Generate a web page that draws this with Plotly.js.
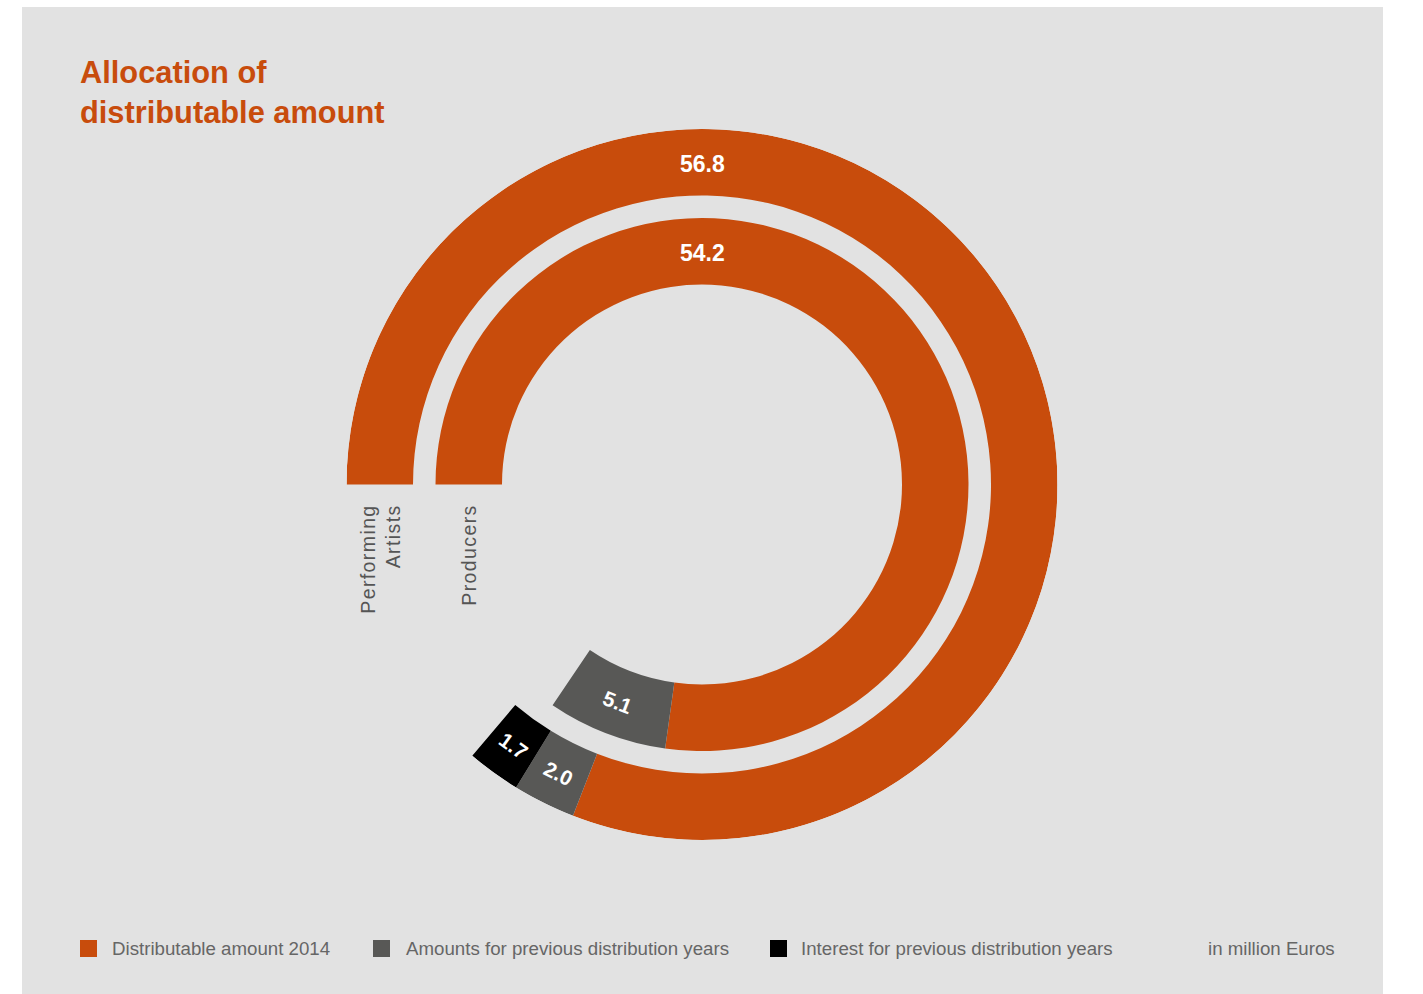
<!DOCTYPE html>
<html>
<head>
<meta charset="utf-8">
<script src="https://cdn.plot.ly/plotly-3.0.1.min.js"></script>
<style>
  html, body { margin: 0; padding: 0; background: #ffffff; width: 1423px; height: 994px; overflow: hidden; }
  #chart { position: absolute; left: 22px; top: 7px; width: 1361px; height: 987px; }
  text[data-unformatted^="Performing"], text[data-unformatted="Producers"] { letter-spacing: 1.4px; }
</style>
</head>
<body>
<div id="chart"></div>
<script>
// ---- data (million Euros) ----
const rings = ['Performing<br>Artists', 'Producers'];
const seriesNames = ['Distributable amount 2014', 'Amounts for previous distribution years', 'Interest for previous distribution years'];
const distributable2014 = [56.8, 54.2];
const previousYears = [2.0, 5.1];
const interestPrevious = [1.7, 0];
const unitNote = 'in million Euros';
const chartTitle = 'Allocation of<br>distributable amount';

// ---- style / geometry ----
const COLORS = ['#c84c0c', '#585856', '#000000'];
const W = 1361, H = 987;
const CX = 680, CY = 477.5, CYUP = H - CY;
const R_MAX = 355.5;
const RING_BASE = [289, 200];
const RING_THICK = 66.5;
const FULL_SCALE = 70.2;           // value units per full turn
const DEG = 360 / FULL_SCALE;

const series = [distributable2014, previousYears, interestPrevious];
const traces = [];
const annotations = [];
const cum = rings.map(() => 0);

function toPaper(alphaDeg, r) {
  const a = alphaDeg * Math.PI / 180;
  return { x: (CX - r * Math.cos(a)) / W, y: (CYUP + r * Math.sin(a)) / H };
}

series.forEach((vals, s) => {
  const theta = [], width = [], base = [], r = [];
  vals.forEach((v, j) => {
    const center = (cum[j] + v / 2) * DEG;
    theta.push(center);
    width.push(v * DEG);
    base.push(RING_BASE[j]);
    r.push(RING_THICK);
    if (v > 0) {
      const alpha = s === 0 ? 90 : center;
      const rot = alpha > 180 ? alpha - 270 : alpha - 90;
      const p = toPaper(alpha, RING_BASE[j] + RING_THICK / 2 - (s === 0 ? 2 : 0));
      annotations.push({
        xref: 'paper', yref: 'paper', x: p.x, y: p.y,
        xanchor: 'center', yanchor: 'middle', showarrow: false,
        text: v.toFixed(1), textangle: rot, borderpad: 0,
        font: { family: 'Liberation Sans, Arial, sans-serif', size: s === 0 ? 23 : 21, color: '#ffffff', weight: 'bold' }
      });
    }
    cum[j] += v;
  });
  traces.push({
    type: 'barpolar', name: seriesNames[s], theta, width, base, r,
    marker: { color: COLORS[s], line: { width: 0 } },
    showlegend: false, hoverinfo: 'skip'
  });
});

// ring category labels below the left ends
rings.forEach((name, j) => {
  const p = toPaper(0, RING_BASE[j] + RING_THICK / 2);
  annotations.push({
    xref: 'paper', yref: 'paper', x: p.x, y: (CYUP - 19) / H,
    xanchor: 'center', yanchor: 'top', showarrow: false,
    text: name, textangle: -90, align: 'right', borderpad: 0,
    font: { family: 'Liberation Sans, Arial, sans-serif', size: 19.5, color: '#555555' }
  });
});

// custom legend
const LEG_SQ_X = [58, 351, 748];
const LEG_TX_X = [89, 383, 778];
const LEG_Y = 941.5;
const LEG_SQ = 17;
const shapes = [];
seriesNames.forEach((n, s) => {
  shapes.push({
    type: 'rect', xref: 'paper', yref: 'paper',
    x0: LEG_SQ_X[s] / W, x1: (LEG_SQ_X[s] + LEG_SQ) / W,
    y0: (H - LEG_Y - LEG_SQ / 2) / H, y1: (H - LEG_Y + LEG_SQ / 2) / H,
    fillcolor: COLORS[s], line: { width: 0 }
  });
  annotations.push({
    xref: 'paper', yref: 'paper', x: LEG_TX_X[s] / W, y: (H - LEG_Y) / H,
    xanchor: 'left', yanchor: 'middle', showarrow: false, text: n, borderpad: 0,
    font: { family: 'Liberation Sans, Arial, sans-serif', size: 18.7, color: '#666666' }
  });
});
annotations.push({
  xref: 'paper', yref: 'paper', x: 1185 / W, y: (H - LEG_Y) / H,
  xanchor: 'left', yanchor: 'middle', showarrow: false, text: unitNote, borderpad: 0,
  font: { family: 'Liberation Sans, Arial, sans-serif', size: 18.7, color: '#666666' }
});

const layout = {
  width: W, height: H,
  margin: { l: 0, r: 0, t: 0, b: 0 },
  paper_bgcolor: '#e2e2e2',
  title: {
    text: chartTitle, x: 58 / W, xanchor: 'left', xref: 'paper',
    y: 1 - 76 / H, yanchor: 'top', yref: 'paper',
    font: { family: 'Liberation Sans, Arial, sans-serif', size: 30.8, color: '#c84c0c', weight: 'bold' }
  },
  polar: {
    domain: { x: [(CX - R_MAX) / W, (CX + R_MAX) / W], y: [(CYUP - R_MAX) / H, (CYUP + R_MAX) / H] },
    bgcolor: 'rgba(0,0,0,0)',
    hole: 0,
    radialaxis: { range: [0, R_MAX], visible: false, showgrid: false },
    angularaxis: { rotation: 180, direction: 'clockwise', thetaunit: 'degrees', visible: false, showgrid: false, showline: false, ticks: '' },
    bargap: 0
  },
  showlegend: false,
  shapes: shapes,
  annotations: annotations
};

Plotly.newPlot('chart', traces, layout, { staticPlot: true, displayModeBar: false });
</script>
</body>
</html>
